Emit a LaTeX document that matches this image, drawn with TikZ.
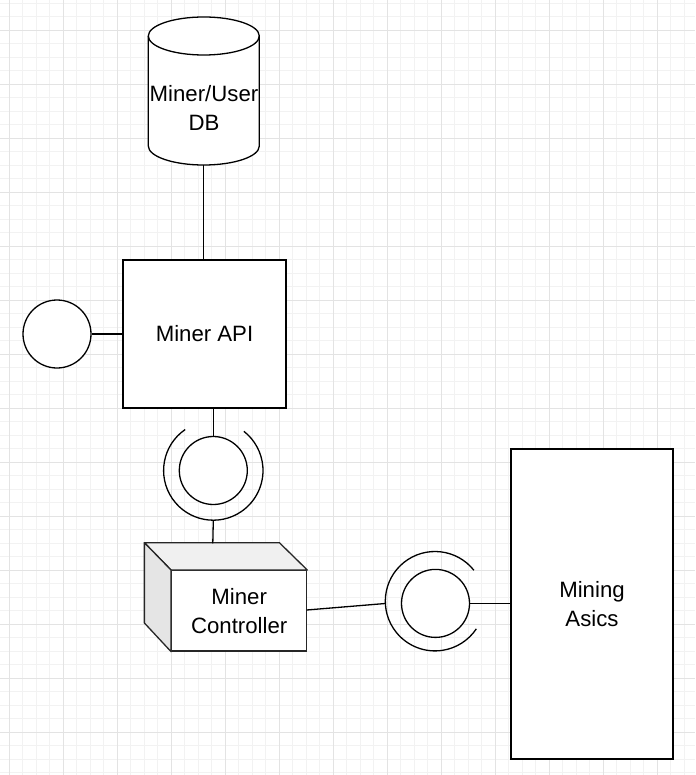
\documentclass[tikz,border=0pt]{standalone}
\usepackage{fontspec}
\setmainfont{Liberation Sans}
\begin{document}
\begin{tikzpicture}[x=1pt,y=1pt,
  lbl/.style={font=\fontsize{22.2}{29}\selectfont, align=center, text=black, inner sep=0pt},
  shp/.style={draw=black, line width=1.3pt, fill=white},
  wire/.style={draw=black, line width=1.3pt},
  minorgrid/.style={draw=black!5, line width=0.9pt},
  majorgrid/.style={draw=black!11, line width=0.9pt}]
\useasboundingbox (0,0) rectangle (695,-775);
\fill[white] (0,0) rectangle (695,-775);
% grid
\foreach \i in {1,...,51} {\draw[minorgrid] ({-4.2+13.5*\i},0) -- ++(0,-775);}
\foreach \j in {0,...,57} {\draw[minorgrid] (0,{-3-13.5*\j}) -- ++(695,0);}
\foreach \k in {0,...,12} {\draw[majorgrid] ({9.3+54*\k},0) -- ++(0,-775);}
\foreach \k in {0,...,13} {\draw[majorgrid] (0,{-30-54*\k}) -- ++(695,0);}

% database cylinder
\node[minimum width=111pt, minimum height=148.3pt, inner sep=0pt] (db) at (203.8,-90.85) {};
\filldraw[shp] (148.3,-36) -- (148.3,-146) arc[start angle=180, end angle=360, x radius=55.5pt, y radius=19pt]
  -- (259.3,-36) arc[start angle=0, end angle=180, x radius=55.5pt, y radius=19pt] -- cycle;
\draw[wire] (148.3,-36) arc[start angle=180, end angle=360, x radius=55.5pt, y radius=19pt];
\node[lbl] (dbtext) at (204,-107.5) {Miner/User\\DB};

% Miner API
\node[shp, rectangle, minimum width=163pt, minimum height=148pt, inner sep=0pt, lbl] (api) at (204.5,-334) {Miner API};

% left lollipop circle
\node[shp, circle, minimum size=68pt, inner sep=0pt] (lolli) at (57,-334) {};
\draw[wire] (lolli.east) -- (api.west |- lolli.east);
\draw[wire] (db.south) -- (api.north -| db.south);

% middle socket
\node[shp, circle, minimum size=68pt, inner sep=0pt] (ball1) at (213.3,-470.5) {};
\draw[wire] (ball1.center) ++(124.5:49.7pt) arc[start angle=124.5, end angle=412, radius=49.7pt];
\coordinate (sock1b) at ([yshift=-49.7pt]ball1.center);
\draw[wire] (ball1.north) -- (ball1.north |- api.south);

% cube (Miner Controller)
\node[shp, rectangle, minimum width=135pt, minimum height=80.3pt, inner sep=0pt, lbl, draw=black!85] (ctrl) at (239.2,-610.85) {Miner\\Controller};
\filldraw[draw=black!85, fill=black!6, line width=1.3pt, line join=round]
  (ctrl.north west) -- ++(-26.7,27.4) -- ++(135,0) -- (ctrl.north east) -- cycle;
\filldraw[draw=black!85, fill=black!10, line width=1.3pt, line join=round]
  (ctrl.north west) -- ++(-26.7,27.4) -- ++(0,-80.3) -- (ctrl.south west) -- cycle;
\coordinate (ctrltop) at (212.8,-543.3);
\draw[wire] (sock1b) -- (ctrltop);

% right socket
\node[shp, circle, minimum size=68pt, inner sep=0pt] (ball2) at (435.5,-603.4) {};
\coordinate (sock2c) at (435,-601.2);
\draw[wire] (sock2c) ++(38.5:49.7pt) arc[start angle=38.5, end angle=326.2, radius=49.7pt];
\coordinate (sock2l) at (385.3,-603.5);
\coordinate (ctrlout) at (306.7,-610);
\draw[wire] (ctrlout) -- (sock2l);

% Mining Asics
\node[shp, rectangle, minimum width=162pt, minimum height=310pt, inner sep=0pt, lbl] (asics) at (592,-604) {Mining\\Asics};
\draw[wire] (ball2.east) -- (asics.west |- ball2.east);
\end{tikzpicture}
\end{document}
